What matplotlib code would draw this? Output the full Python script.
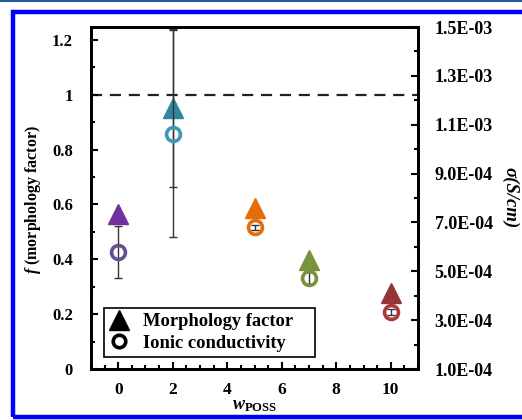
import matplotlib
matplotlib.use("Agg")
import matplotlib.pyplot as plt
from matplotlib.lines import Line2D
from matplotlib.patches import Rectangle
from matplotlib.ticker import MultipleLocator, FuncFormatter

plt.rcParams['font.family'] = ['Liberation Serif', 'DejaVu Serif']
plt.rcParams['font.weight'] = 'bold'
plt.rcParams['mathtext.fontset'] = 'custom'
plt.rcParams['mathtext.rm'] = 'Liberation Serif:bold'
plt.rcParams['mathtext.it'] = 'Liberation Serif:italic'

# data
w_poss = [0, 2, 5, 7, 10]
morph = [0.565, 0.95, 0.587, 0.396, 0.276]
morph_err = [0, 0.288, 0, 0, 0]
sigma = [5.78e-4, 1.063e-3, 6.80e-4, 4.71e-4, 3.33e-4]
sigma_err = [1.07e-4, 4.24e-4, 1.0e-5, 2.5e-5, 1.2e-5]
tri_colors = ['#7030A0', '#31859C', '#E46C0A', '#77933C', '#953735']
circ_colors = ['#65508F', '#3C9AB4', '#E46C0A', '#77933C', '#A93A38']

fig = plt.figure(figsize=(5.22, 4.2), dpi=100)
ax = fig.add_axes([0.1743, 0.1214, 0.6265, 0.8143])
ax2 = ax.twinx()

# error bars first (behind markers)
for i in range(len(w_poss)):
    if morph_err[i] > 0:
        ax.errorbar(w_poss[i], morph[i], yerr=morph_err[i], fmt='none',
                    ecolor='#333333', elinewidth=1, capsize=3, zorder=1)
    ax2.errorbar(w_poss[i], sigma[i], yerr=sigma_err[i], fmt='none',
                 ecolor='#333333', elinewidth=1, capsize=3, zorder=1)

for i in range(len(w_poss)):
    ax.plot(w_poss[i], morph[i], marker='^', ms=14, color=tri_colors[i],
            mec=tri_colors[i], ls='none', zorder=3)
    ax2.plot(w_poss[i], sigma[i], marker='o', ms=10, mfc='none', mew=2.6,
             mec=circ_colors[i], ls='none', zorder=3)

ax.axhline(1.0, color='#222222', lw=1.6, ls=(0, (5, 3.5)), zorder=0)

ax.set_xlim(-1, 11)
ax.set_ylim(0, 1.2465)
ax2.set_ylim(1e-4, 1.5e-3)

ax.xaxis.set_major_locator(MultipleLocator(2))
ax.xaxis.set_minor_locator(MultipleLocator(0.5))
ax.yaxis.set_major_locator(MultipleLocator(0.2))
ax.yaxis.set_minor_locator(MultipleLocator(0.1))
ax2.yaxis.set_minor_locator(MultipleLocator(1e-4))
ax.yaxis.set_major_formatter(FuncFormatter(lambda v, p: '%g' % round(v, 2)))
ax2.set_yticks([1e-4, 3e-4, 5e-4, 7e-4, 9e-4, 1.1e-3, 1.3e-3, 1.5e-3])
ax2.yaxis.set_major_formatter(FuncFormatter(lambda v, p: '%.1E' % v))

ax.tick_params(axis='x', which='both', direction='in', top=False, labelsize=12.5, pad=9)
ax.tick_params(axis='y', which='both', direction='in', right=False, labelsize=12, pad=13)
ax2.tick_params(axis='y', which='both', direction='in', labelsize=13, pad=12)
for a in (ax, ax2):
    a.tick_params(which='major', length=5, width=1.5)
    a.tick_params(which='minor', length=3, width=1.5)
    for s in a.spines.values():
        s.set_linewidth(2)

# axis titles
fig.text(33 / 522, 1 - 200 / 420, r'$\mathit{f}$ (morphology factor)', fontsize=11.5,
         fontweight='bold', rotation=90, ha='center', va='center')
fig.text(255 / 522, 1 - 406 / 420, r'$\mathit{w}_{\mathrm{POSS}}$', fontsize=13,
         ha='center', va='center')
fig.text(510 / 522, 1 - 198 / 420, '\u03c3(S/cm)', fontsize=13.5, style='italic',
         fontweight='bold', rotation=270, ha='center', va='center')

handles = [Line2D([], [], marker='^', ms=14, color='black', ls='none'),
           Line2D([], [], marker='o', ms=9, mfc='none', mec='black', mew=2.6, ls='none')]
leg = ax.legend(handles, ['Morphology factor', 'Ionic conductivity'],
                loc='lower left', bbox_to_anchor=(0.04, 0.035, 0.645, 0.14),
                mode='expand', fontsize=13.3,
                frameon=True, fancybox=False, edgecolor='black', framealpha=1,
                handletextpad=0.8, borderpad=0.3, labelspacing=0.22,
                handlelength=1.0, borderaxespad=0)
leg.get_frame().set_linewidth(1.2)
leg.set_zorder(5)

# page frame around the figure
fig.add_artist(Line2D([0, 1], [1 - 1 / 420, 1 - 1 / 420], transform=fig.transFigure,
                      color='#1F5FA0', lw=1.5))
fig.add_artist(Rectangle((12.5 / 522, 1 - 417 / 420), 1.1, (417 - 12) / 420,
                         transform=fig.transFigure, fill=False, edgecolor='#0000FF',
                         lw=3.2))

fig.savefig('out.png', dpi=100)
